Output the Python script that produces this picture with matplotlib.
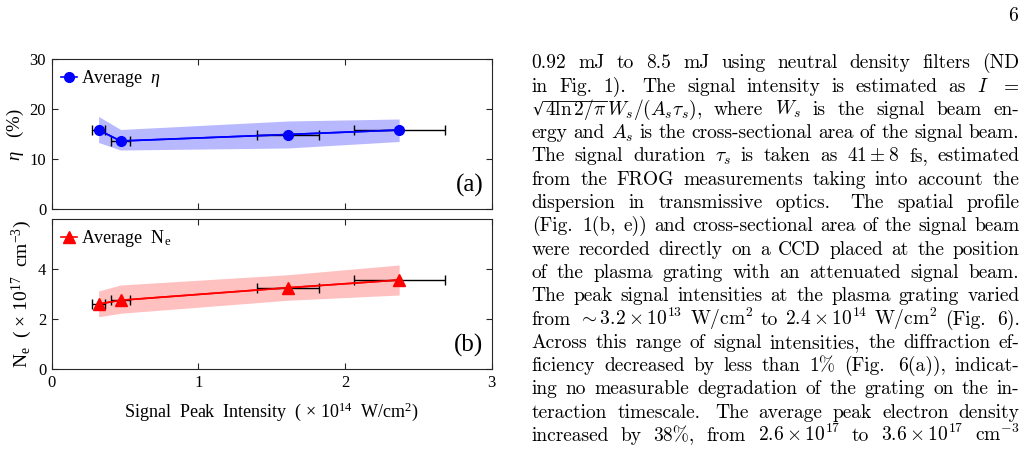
import matplotlib
matplotlib.use("Agg")
import matplotlib.pyplot as plt
from matplotlib.lines import Line2D

W, H = 1027, 450

# chart data
intensity = [0.32, 0.47, 1.61, 2.37]          # x 10^14 W/cm^2
intensity_err = [0.044, 0.065, 0.213, 0.31]
eta = [15.8, 13.6, 14.9, 15.8]                 # %
eta_low = [13.3, 11.8, 12.2, 13.5]
eta_high = [18.5, 15.9, 17.6, 18.0]
ne = [2.6, 2.75, 3.25, 3.56]                   # x 10^17 cm^-3
ne_low = [2.09, 2.23, 2.75, 2.96]
ne_high = [3.12, 3.36, 3.77, 4.16]

x_ticks = [0, 1, 2, 3]
eta_ticks = [0, 10, 20, 30]
ne_ticks = [0, 2, 4]

# page text beside the figure ("\u221a" marks the square root)
TEXT_LINES = [
    "0.92 mJ to 8.5 mJ using neutral density filters (ND",
    "in Fig. 1).  The signal intensity is estimated as $I$ $=$",
    "\u221a$4\\ln 2/\\pi\\,W_s/(A_s\\tau_s)$, where $W_s$ is the signal beam en-",
    "ergy and $A_s$ is the cross-sectional area of the signal beam.",
    r"The signal duration $\tau_s$ is taken as $41\pm8$ fs, estimated",
    "from the FROG measurements taking into account the",
    "dispersion in transmissive optics.  The spatial profile",
    "(Fig. 1(b, e)) and cross-sectional area of the signal beam",
    "were recorded directly on a CCD placed at the position",
    "of the plasma grating with an attenuated signal beam.",
    "The peak signal intensities at the plasma grating varied",
    r"from $\sim 3.2\times10^{13}$ W/cm$^2$ to $2.4\times10^{14}$ W/cm$^2$ (Fig. 6).",
    "Across this range of signal intensities, the diffraction ef-",
    "ficiency decreased by less than 1% (Fig. 6(a)), indicat-",
    "ing no measurable degradation of the grating on the in-",
    "teraction timescale.  The average peak electron density",
    r"increased by 38%, from $2.6\times10^{17}$ to $3.6\times10^{17}$ cm$^{-3}$",
]
RADICAND = r"$4\ln 2/\pi$"
PAGE_NUMBER = "6"

FRAME = "#262626"
PAPER_FONT = ["cmr10", "DejaVu Serif"]
PAPER_SIZE = 14


def split_tokens(line):
    tokens, cur, in_math = [], "", False
    for ch in line:
        if ch == "$":
            in_math = not in_math
        if ch == " " and not in_math:
            if cur:
                tokens.append(cur)
            cur = ""
        else:
            cur += ch
    if cur:
        tokens.append(cur)
    return tokens


def paper_text(fig, y, s):
    return fig.text(0, y, s, fontsize=PAPER_SIZE, family=PAPER_FONT,
                    math_fontfamily="cm", ha="left", va="baseline")


def style_axes(ax, yticks, ymax):
    ax.set_xlim(0, 3)
    ax.set_ylim(0, ymax)
    ax.set_xticks(x_ticks)
    ax.set_yticks(yticks)
    ax.tick_params(direction="in", top=True, right=True, length=4, width=0.8,
                   color=FRAME, labelsize=12, pad=4)
    for sp in ax.spines.values():
        sp.set_color(FRAME)
        sp.set_linewidth(0.8)


def draw_panel(ax, y, lo, hi, color, band, marker, ms, label):
    ax.fill_between(intensity, lo, hi, color=band, lw=0, zorder=1)
    ax.plot(intensity, y, "-", color=color, lw=1.2, zorder=2)
    ax.errorbar(intensity, y, xerr=intensity_err, fmt="none", ecolor="black",
                elinewidth=1.0, capsize=3.5, capthick=1.0, zorder=3)
    ax.plot(intensity, y, "-", marker=marker, color=color, ms=ms, lw=1.2,
            zorder=4, label=label)
    ax.legend(loc="upper left", frameon=False, fontsize=13, handlelength=0.9,
              handletextpad=0.2, borderaxespad=0.3, borderpad=0.2)


def main() -> None:
    plt.rcParams["font.family"] = ["Liberation Serif", "DejaVu Serif"]
    plt.rcParams["mathtext.fontset"] = "custom"
    plt.rcParams["mathtext.rm"] = "Liberation Serif"
    plt.rcParams["mathtext.it"] = "Liberation Serif:italic"
    plt.rcParams["mathtext.bf"] = "Liberation Serif:bold"

    fig = plt.figure(figsize=(W / 100, H / 100), dpi=100)

    left, width = 51.7 / W, (491.5 - 51.7) / W
    ax_top = fig.add_axes([left, (H - 209) / H, width, 150 / H])
    ax_bot = fig.add_axes([left, (H - 369) / H, width, 150 / H])

    draw_panel(ax_top, eta, eta_low, eta_high, "#0000ff", "#b8b8ff", "o", 7,
               r"Average  $\eta$")
    style_axes(ax_top, eta_ticks, 30)
    ax_top.tick_params(labelbottom=False)
    ax_top.text(0.981, 0.115, "(a)", transform=ax_top.transAxes, fontsize=18,
                ha="right", va="baseline")

    draw_panel(ax_bot, ne, ne_low, ne_high, "#ff0000", "#ffc0c0", "^", 8,
               r"Average  N$_\mathrm{e}$")
    style_axes(ax_bot, ne_ticks, 6)
    ax_bot.text(0.981, 0.115, "(b)", transform=ax_bot.transAxes, fontsize=18,
                ha="right", va="baseline")

    fig.text(15 / W, 1 - 135 / H, r"$\eta$   (%)", rotation=90, fontsize=13.5,
             ha="center", va="center")
    fig.text(22 / W, 1 - 294 / H, r"N$_\mathrm{e}$  ( × 10$^{17}$  cm$^{-3}$)",
             rotation=90, fontsize=14, ha="center", va="center")
    fig.text(271.6 / W, 1 - 417 / H,
             r"Signal  Peak  Intensity  ( × 10$^{14}$  W/cm$^2$)",
             fontsize=13, ha="center", va="baseline")

    # justified paragraph, word by word
    renderer = fig.canvas.get_renderer()
    x0, x1 = 531.7, 1019.5
    base, step = 68.3, 23.3
    for i, line in enumerate(TEXT_LINES):
        base_px = base + i * step
        y = 1 - base_px / H
        toks = split_tokens(line)
        words = []
        for t in toks:
            if t.startswith("\u221a"):
                top_px = base_px - 14
                rad = fig.text(0, 1 - top_px / H, "$\u221a$", fontsize=PAPER_SIZE,
                               math_fontfamily="dejavuserif", ha="left", va="top")
                h = rad.get_window_extent(renderer).height
                rad.set_fontsize(PAPER_SIZE * 17.5 / h)
                rw = rad.get_window_extent(renderer).width
                body = paper_text(fig, y, t[1:])
                bw = body.get_window_extent(renderer).width
                probe = paper_text(fig, y, RADICAND)
                pw = probe.get_window_extent(renderer).width
                probe.remove()
                words.append(([(rad, 0), (body, rw)], rw + bw,
                              (rw - 0.8, rw + pw + 1, top_px + 0.5)))
            else:
                o = paper_text(fig, y, t)
                words.append(([(o, 0)], o.get_window_extent(renderer).width, None))
        weights = []
        for t in toks[:-1]:
            end = t.endswith(".") and t != "Fig."
            weights.append(1.5 if end else 1.0)
        gap = (x1 - x0 - sum(w[1] for w in words)) / max(sum(weights), 1)
        x = x0
        for (parts, w, bar), wt in zip(words, weights + [0]):
            for o, off in parts:
                o.set_x((x + off) / W)
            if bar is not None:
                a, b, yb = bar
                fig.add_artist(Line2D([(x + a) / W, (x + b) / W],
                                      [1 - yb / H, 1 - yb / H],
                                      transform=fig.transFigure,
                                      color="black", lw=0.65))
            x += w + gap * wt

    fig.text(1018 / W, 1 - 20.7 / H, PAGE_NUMBER, fontsize=PAPER_SIZE,
             family=PAPER_FONT, ha="right", va="baseline")

    fig.savefig("out.png", dpi=100)
    plt.close(fig)


if __name__ == "__main__":
    main()
